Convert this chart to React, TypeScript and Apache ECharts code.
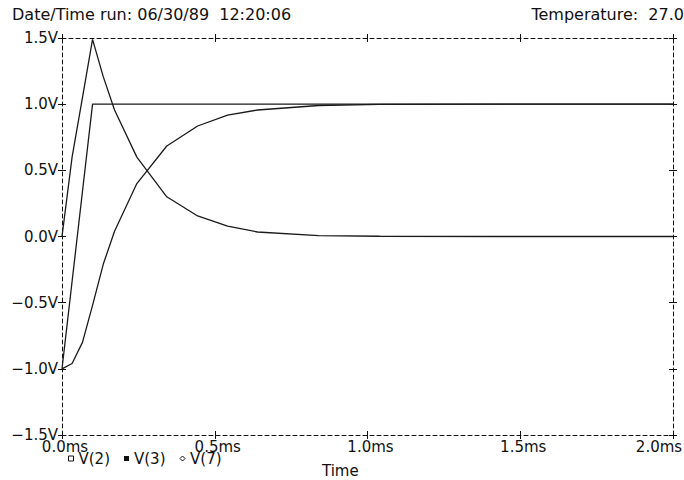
import React, { useEffect, useRef } from "react";
import * as echarts from "echarts";

// Transient analysis samples (time in ms)
const timeMs = [0, 0.033, 0.067, 0.1, 0.135, 0.172, 0.245, 0.343, 0.444, 0.542, 0.64, 0.84, 1.04, 1.44, 2.0];
const v2 = [-1.0, -0.34, 0.34, 1.0, 1.0, 1.0, 1.0, 1.0, 1.0, 1.0, 1.0, 1.0, 1.0, 1.0, 1.0];
const v3 = [-1.0, -0.96, -0.8, -0.52, -0.21, 0.04, 0.4, 0.684, 0.835, 0.918, 0.956, 0.99, 0.998, 1.0, 1.0];
const v7 = [0.0, 0.6, 1.05, 1.49, 1.208, 0.956, 0.6, 0.3, 0.155, 0.079, 0.034, 0.007, 0.002, 0.0, 0.0];

const seriesNames = ["V(2)", "V(3)", "V(7)"];
const NB2 = "\u00a0\u00a0";
const headerLeft = `Date/Time run: 06/30/89${NB2}12:20:06`;
const headerRight = `Temperature:${NB2}27.0`;
const xTitle = "Time";

const FONT = '"DejaVu Sans", sans-serif';
const INK = "#111";
const dashed = { color: INK, width: 1, type: [4, 3] as number[] };

const pairs = (vals: number[]) => timeMs.map((t, i) => [t, vals[i]]);

export default function App() {
  const ref = useRef<HTMLDivElement>(null);

  useEffect(() => {
    if (!ref.current) return;
    const chart = echarts.init(ref.current, null, { renderer: "svg" });

    const xBase = { type: "value", min: 0, max: 2, interval: 0.5, splitLine: { show: false } };
    const yBase = { type: "value", min: -1.5, max: 1.5, interval: 0.5, splitLine: { show: false } };
    const tickOnly = {
      axisLine: { show: false, onZero: false },
      axisLabel: { show: false },
      axisTick: { show: true, inside: true, length: 8, lineStyle: { color: INK, width: 1 } },
    };
    const lineOnly = {
      axisLine: { show: true, onZero: false, lineStyle: dashed },
      axisTick: { show: false },
      axisLabel: { show: false },
    };

    chart.setOption({
      animation: false,
      backgroundColor: "#fff",
      grid: { left: 62, right: 11, top: 38, bottom: 45, outerBoundsMode: "none", containLabel: false },
      xAxis: [
        {
          ...xBase,
          position: "bottom",
          axisLine: { show: true, onZero: false, lineStyle: dashed },
          axisTick: { show: false },
          axisLabel: {
            show: true,
            showMinLabel: true,
            showMaxLabel: true,
            hideOverlap: false,
            margin: 4,
            verticalAlign: "top",
            formatter: (v: number) => {
              const s = v.toFixed(1) + "ms";
              return v === 2 ? `{e|${s}}` : `{n|${s}}`;
            },
            rich: {
              n: { fontFamily: FONT, fontSize: 15, color: INK, lineHeight: 15, padding: [0, 0, 0, 6] },
              e: { fontFamily: FONT, fontSize: 15, color: INK, lineHeight: 15, padding: [0, 28, 0, 0] },
            },
          },
        },
        { ...xBase, position: "bottom", offset: 4, ...tickOnly },
        { ...xBase, position: "top", ...lineOnly },
        { ...xBase, position: "top", offset: 4, ...tickOnly },
      ],
      yAxis: [
        {
          ...yBase,
          position: "left",
          axisLine: { show: true, onZero: false, lineStyle: dashed },
          axisTick: { show: false },
          axisLabel: {
            show: true,
            margin: 4,
            fontFamily: FONT,
            fontSize: 15,
            color: INK,
            lineHeight: 15,
            verticalAlign: "middle",
            padding: [0, 0, 10, 0],
            formatter: (v: number) => (v < 0 ? "\u2212" : "") + Math.abs(v).toFixed(1) + "V",
          },
        },
        { ...yBase, position: "left", offset: 4, ...tickOnly },
        { ...yBase, position: "right", ...lineOnly },
        { ...yBase, position: "right", offset: 4, ...tickOnly },
      ],
      legend: {
        left: 63,
        top: 446,
        padding: 5,
        itemWidth: 5,
        itemHeight: 5,
        itemGap: 14,
        textStyle: { fontFamily: FONT, fontSize: 15, color: INK },
        data: [
          { name: seriesNames[0], icon: "rect", itemStyle: { color: "#fff", borderColor: INK, borderWidth: 1 } },
          { name: seriesNames[1], icon: "rect", itemStyle: { color: INK, borderWidth: 0 } },
          { name: seriesNames[2], icon: "diamond", itemStyle: { color: "#fff", borderColor: INK, borderWidth: 1 } },
        ],
      },
      series: [v2, v3, v7].map((vals, i) => ({
        name: seriesNames[i],
        type: "line",
        xAxisIndex: 0,
        yAxisIndex: 0,
        data: pairs(vals),
        symbol: "none",
        lineStyle: { color: "#1a1a1a", width: 1.3 },
        itemStyle: { color: INK },
        z: 3,
      })),
      graphic: [
        {
          type: "text",
          left: 12,
          top: 6,
          style: { text: headerLeft, font: `16px ${FONT}`, fill: INK },
        },
        {
          type: "text",
          right: 0,
          top: 6,
          style: { text: headerRight, font: `16px ${FONT}`, fill: INK },
        },
        {
          type: "text",
          left: 322,
          top: 463,
          style: { text: xTitle, font: `15px ${FONT}`, fill: INK },
        },
      ],
    });

    return () => chart.dispose();
  }, []);

  return (
    <div
      ref={ref}
      style={{ position: "fixed", left: 0, top: 0, width: 684, height: 480, background: "#fff" }}
    />
  );
}
